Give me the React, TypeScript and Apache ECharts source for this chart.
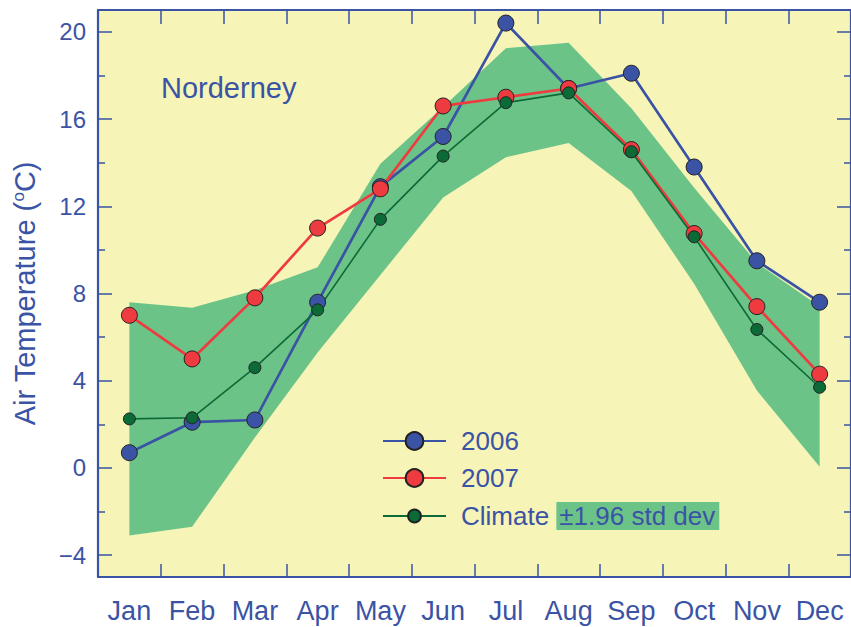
import React, { useEffect, useRef } from "react";
import * as echarts from "echarts";

const months = ["Jan", "Feb", "Mar", "Apr", "May", "Jun", "Jul", "Aug", "Sep", "Oct", "Nov", "Dec"];
const t2006 = [0.7, 2.1, 2.2, 7.6, 12.9, 15.2, 20.4, 17.4, 18.1, 13.8, 9.5, 7.6];
const t2007 = [7.0, 5.0, 7.8, 11.0, 12.8, 16.6, 17.0, 17.4, 14.6, 10.75, 7.4, 4.3];
const climate = [2.25, 2.3, 4.6, 7.25, 11.4, 14.3, 16.75, 17.2, 14.5, 10.6, 6.35, 3.7];
const bandLower = [-3.1, -2.7, 1.4, 5.3, 8.85, 12.4, 14.25, 14.9, 12.7, 8.45, 3.55, 0.05];
const bandUpper = [7.6, 7.35, 8.15, 9.2, 13.95, 16.55, 19.25, 19.5, 16.5, 12.85, 9.4, 7.4];
const majorTicks = [-4, 0, 4, 8, 12, 16, 20];
const minorTicks = [-2, 2, 6, 10, 14, 18];

const BLUE = "#3A53A4";
const RED = "#EE3B3F";
const DKGREEN = "#0B6A36";
const BAND = "#6CC388";
const BG = "#F6F4B7";
const FONT = "'Liberation Sans', Arial, Helvetica, sans-serif";

export default function App() {
  const ref = useRef<HTMLDivElement>(null);
  useEffect(() => {
    const chart = echarts.init(ref.current!, null, { renderer: "svg" });
    const bandDiff = bandUpper.map((u, i) => +(u - bandLower[i]).toFixed(3));
    const yCommon = { type: "value", min: -5, max: 21, splitLine: { show: false } };
    const axisLineStyle = { show: true, onZero: false, lineStyle: { color: BLUE, width: 2.2 } };
    const tickStyle = { color: BLUE, width: 1.5 };
    chart.setOption({
      animation: false,
      backgroundColor: "#ffffff",
      title: {
        text: "Norderney",
        left: 161,
        top: 73,
        padding: 0,
        textStyle: { fontFamily: FONT, fontSize: 29, fontWeight: "normal", color: BLUE },
      },
      grid: { left: 98, right: -2, top: 10, bottom: 50, show: true, backgroundColor: BG, borderWidth: 0 },
      legend: [
        {
          data: ["2006"], left: 382, top: 428, padding: 0, itemWidth: 63, itemHeight: 22,
          textStyle: { fontFamily: FONT, fontSize: 26, color: BLUE, padding: [0, 0, 0, 10] },
        },
        {
          data: ["2007"], left: 382, top: 465, padding: 0, itemWidth: 63, itemHeight: 22,
          textStyle: { fontFamily: FONT, fontSize: 26, color: BLUE, padding: [0, 0, 0, 10] },
        },
        {
          data: ["Climate"], left: 382, top: 502, padding: 0, itemWidth: 63, itemHeight: 16,
          formatter: (name: string) => name + " {b|\u00b11.96 std dev}",
          textStyle: {
            fontFamily: FONT, fontSize: 26, color: BLUE, padding: [0, 0, 0, 10],
            rich: { b: { fontFamily: FONT, fontSize: 26, color: BLUE, backgroundColor: BAND, padding: [1, 4, 1, 3] } },
          },
        },
      ],
      xAxis: [
        {
          type: "category", data: months, boundaryGap: true, position: "bottom",
          axisLine: axisLineStyle,
          axisTick: { show: true, inside: true, length: 13, interval: 0, alignWithLabel: false, lineStyle: tickStyle },
          axisLabel: { show: true, interval: 0, margin: 20, fontFamily: FONT, fontSize: 27, color: BLUE },
        },
        {
          type: "category", data: months, boundaryGap: true, position: "top",
          axisLine: axisLineStyle,
          axisTick: { show: true, inside: true, length: 14, interval: 0, alignWithLabel: false, lineStyle: tickStyle },
          axisLabel: { show: false },
        },
      ],
      yAxis: [
        {
          ...yCommon, position: "left",
          axisLine: axisLineStyle,
          axisTick: { show: true, inside: true, length: 14, customValues: majorTicks, lineStyle: tickStyle },
          axisLabel: {
            show: true, customValues: majorTicks, margin: 12, fontFamily: FONT, fontSize: 24, color: BLUE,
            formatter: (v: number) => (v < 0 ? "\u2212" + Math.abs(v) : String(v)),
          },
          name: "Air Temperature ({s|o}C)",
          nameLocation: "middle",
          nameGap: 59,
          nameTextStyle: {
            fontFamily: FONT, fontSize: 29, color: BLUE,
            rich: { s: { fontFamily: FONT, fontSize: 17, color: BLUE, verticalAlign: "top" } },
          },
        },
        {
          ...yCommon, position: "left",
          axisLine: { show: false },
          axisTick: { show: true, inside: true, length: 7, customValues: minorTicks, lineStyle: tickStyle },
          axisLabel: { show: false },
        },
        {
          ...yCommon, position: "right",
          axisLine: axisLineStyle,
          axisTick: { show: true, inside: true, length: 14, customValues: majorTicks, lineStyle: tickStyle },
          axisLabel: { show: false },
        },
        {
          ...yCommon, position: "right",
          axisLine: { show: false },
          axisTick: { show: true, inside: true, length: 7, customValues: minorTicks, lineStyle: tickStyle },
          axisLabel: { show: false },
        },
      ],
      series: [
        {
          name: "bandLower", type: "line", data: bandLower, stack: "band", stackStrategy: "all",
          symbol: "none", lineStyle: { opacity: 0 }, silent: true,
        },
        {
          name: "bandDiff", type: "line", data: bandDiff, stack: "band", stackStrategy: "all",
          symbol: "none", lineStyle: { opacity: 0 }, areaStyle: { color: BAND, opacity: 1 }, silent: true,
        },
        {
          name: "2006", type: "line", data: t2006, symbol: "circle", symbolSize: 16,
          lineStyle: { color: BLUE, width: 2.7 },
          itemStyle: { color: BLUE, borderColor: "#222", borderWidth: 1 },
        },
        {
          name: "2007", type: "line", data: t2007, symbol: "circle", symbolSize: 16,
          lineStyle: { color: RED, width: 2.7 },
          itemStyle: { color: RED, borderColor: "#222", borderWidth: 1 },
        },
        {
          name: "Climate", type: "line", data: climate, symbol: "circle", symbolSize: 12,
          lineStyle: { color: DKGREEN, width: 1.6 },
          itemStyle: { color: DKGREEN, borderColor: "#222", borderWidth: 1 },
        },
      ],
    });
    return () => chart.dispose();
  }, []);
  return <div ref={ref} style={{ position: "fixed", left: 0, top: 0, width: 851, height: 627 }} />;
}
